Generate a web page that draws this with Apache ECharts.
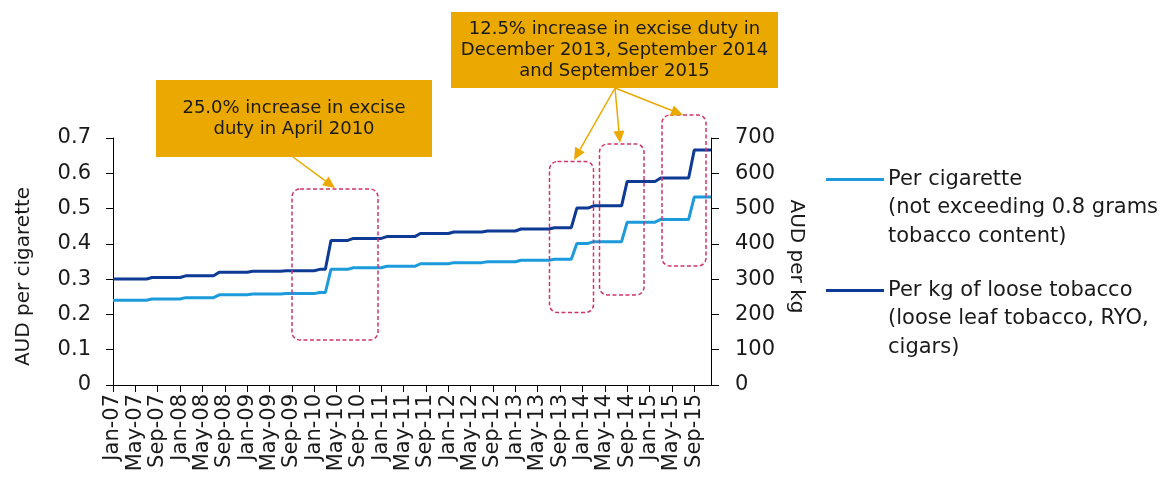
<!DOCTYPE html>
<html>
<head>
<meta charset="utf-8">
<script src="https://cdn.jsdelivr.net/npm/echarts@6/dist/echarts.min.js"></script>
<style>
html,body{margin:0;padding:0;background:#fff;}
#chart{width:1167px;height:477px;}
</style>
</head>
<body>
<div id="chart"></div>
<script>
// ---- Data ----
const monthNames = ['Jan','Feb','Mar','Apr','May','Jun','Jul','Aug','Sep','Oct','Nov','Dec'];
const years = ['07','08','09','10','11','12','13','14','15'];
const months = [];
years.forEach(y => monthNames.forEach(m => months.push(m + '-' + y)));

// AUD per cigarette (monthly, Jan-07 .. Dec-15)
const perCigarette = [
  0.2404,0.2404,0.2404,0.2404,0.2404,0.2404,0.2404,0.2436,0.2436,0.2436,0.2436,0.2436, // 2007
  0.2436,0.2475,0.2475,0.2475,0.2475,0.2475,0.2475,0.2556,0.2556,0.2556,0.2556,0.2556, // 2008
  0.2556,0.2578,0.2578,0.2578,0.2578,0.2578,0.2578,0.2590,0.2590,0.2590,0.2590,0.2590, // 2009
  0.2590,0.2622,0.2622,0.3278,0.3278,0.3278,0.3278,0.3323,0.3323,0.3323,0.3323,0.3323, // 2010
  0.3323,0.3364,0.3364,0.3364,0.3364,0.3364,0.3364,0.3436,0.3436,0.3436,0.3436,0.3436, // 2011
  0.3436,0.3468,0.3468,0.3468,0.3468,0.3468,0.3468,0.3492,0.3492,0.3492,0.3492,0.3492, // 2012
  0.3492,0.3536,0.3536,0.3536,0.3536,0.3536,0.3536,0.3566,0.3566,0.3566,0.3566,0.4012, // 2013
  0.4012,0.4012,0.4062,0.4062,0.4062,0.4062,0.4062,0.4062,0.4615,0.4615,0.4615,0.4615, // 2014
  0.4615,0.4615,0.4692,0.4692,0.4692,0.4692,0.4692,0.4692,0.5325,0.5325,0.5325,0.5325  // 2015
];

// AUD per kg of loose tobacco (monthly, Jan-07 .. Dec-15)
const perKg = [
  300.5,300.5,300.5,300.5,300.5,300.5,300.5,304.5,304.5,304.5,304.5,304.5, // 2007
  304.5,309.4,309.4,309.4,309.4,309.4,309.4,319.5,319.5,319.5,319.5,319.5, // 2008
  319.5,322.3,322.3,322.3,322.3,322.3,322.3,323.8,323.8,323.8,323.8,323.8, // 2009
  323.8,327.8,327.8,409.7,409.7,409.7,409.7,415.4,415.4,415.4,415.4,415.4, // 2010
  415.4,420.5,420.5,420.5,420.5,420.5,420.5,429.5,429.5,429.5,429.5,429.5, // 2011
  429.5,433.5,433.5,433.5,433.5,433.5,433.5,436.5,436.5,436.5,436.5,436.5, // 2012
  436.5,442.0,442.0,442.0,442.0,442.0,442.0,445.8,445.8,445.8,445.8,501.5, // 2013
  501.5,501.5,507.8,507.8,507.8,507.8,507.8,507.8,576.9,576.9,576.9,576.9, // 2014
  576.9,576.9,586.5,586.5,586.5,586.5,586.5,586.5,665.7,665.7,665.7,665.7  // 2015
];

const seriesNames = ['Per cigarette\n(not exceeding 0.8 grams\ntobacco content)',
                     'Per kg of loose tobacco\n(loose leaf tobacco, RYO,\ncigars)'];
const leftAxisName = 'AUD per cigarette';
const rightAxisName = 'AUD per kg';
const note1 = '25.0% increase in excise\nduty in April 2010';
const note2 = '12.5% increase in excise duty in\nDecember 2013, September 2014\nand September 2015';

// ---- Styling ----
const FONT = 'DejaVu Sans';
const TXT = '#1a1a1a';
const LIGHT = '#1b9bdb';
const DARK = '#0c3a94';
const ORANGE = '#eba900';
const PINK = '#d0336a';

function arrow(x1, y1, x2, y2) {
  const a = Math.atan2(y2 - y1, x2 - x1);
  const L = 12, W = 5.5;
  const bx = x2 - L * Math.cos(a), by = y2 - L * Math.sin(a);
  const px = -Math.sin(a) * W, py = Math.cos(a) * W;
  return [
    {type: 'line', z: 20, shape: {x1: x1, y1: y1, x2: bx, y2: by}, style: {stroke: ORANGE, lineWidth: 1.5}},
    {type: 'polygon', z: 20, shape: {points: [[x2, y2], [bx + px, by + py], [bx - px, by - py]]}, style: {fill: ORANGE}}
  ];
}
function dashRect(x, y, w, h) {
  return {type: 'rect', z: 15, shape: {x: x, y: y, width: w, height: h, r: 8},
          style: {fill: null, stroke: PINK, lineWidth: 1.5, lineDash: [4, 2.5]}};
}
function noteBox(x, y, w, h, text) {
  return [
    {type: 'rect', z: 18, shape: {x: x, y: y, width: w, height: h}, style: {fill: ORANGE}},
    {type: 'text', z: 19, x: x + w / 2, y: y + h / 2,
     style: {text: text, font: '18px "' + FONT + '"', fill: TXT, align: 'center', verticalAlign: 'middle', lineHeight: 21}}
  ];
}
function legendItem(y, color, text) {
  return [
    {type: 'line', z: 10, shape: {x1: 826, y1: y, x2: 884, y2: y}, style: {stroke: color, lineWidth: 3}},
    {type: 'text', z: 10, x: 888, y: y - 14.25,
     style: {text: text, font: '21px "' + FONT + '"', fill: TXT, align: 'left', verticalAlign: 'top', lineHeight: 28.5}}
  ];
}

const graphics = [].concat(
  dashRect(292, 189, 86, 151),
  dashRect(549.5, 161.5, 44, 151),
  dashRect(599.5, 144, 44.5, 151),
  dashRect(662, 115, 44, 151),
  noteBox(156, 80, 276, 77, note1),
  noteBox(451, 12, 327, 76, note2),
  arrow(293, 157, 335, 188),
  arrow(615, 88, 574, 160),
  arrow(615, 88, 620, 143),
  arrow(615, 88, 683, 115),
  legendItem(179.5, LIGHT, seriesNames[0]),
  legendItem(290.5, DARK, seriesNames[1])
);

const chart = echarts.init(document.getElementById('chart'), null, {renderer: 'canvas'});
chart.setOption({
  animation: false,
  backgroundColor: '#fff',
  textStyle: {fontFamily: FONT, color: TXT},
  grid: {left: 113, right: 456, top: 138, bottom: 92, containLabel: false},
  xAxis: {
    type: 'category', data: months, boundaryGap: false,
    axisLine: {lineStyle: {color: '#000', width: 1}},
    axisTick: {interval: 3, length: 7, lineStyle: {color: '#000'}},
    axisLabel: {interval: 3, rotate: 90, margin: 9, fontSize: 21, color: TXT, fontFamily: FONT},
    splitLine: {show: false}
  },
  yAxis: [
    {
      type: 'value', min: 0, max: 0.7, interval: 0.1, position: 'left',
      name: leftAxisName, nameLocation: 'middle', nameGap: 79,
      nameTextStyle: {fontSize: 20, color: TXT, fontFamily: FONT, padding: [0, 30, 0, 0]},
      axisLine: {show: true, lineStyle: {color: '#000', width: 1}},
      axisTick: {show: true, length: 7, lineStyle: {color: '#000'}},
      axisLabel: {margin: 22, fontSize: 21, color: TXT, fontFamily: FONT,
                  formatter: v => (Math.round(v * 10) / 10).toString()},
      splitLine: {show: false}
    },
    {
      type: 'value', min: 0, max: 700, interval: 100, position: 'right',
      name: rightAxisName, nameLocation: 'middle', nameGap: 74, nameRotate: -90,
      nameTextStyle: {fontSize: 20, color: TXT, fontFamily: FONT, padding: [0, 10, 0, 0]},
      axisLine: {show: true, lineStyle: {color: '#000', width: 1}},
      axisTick: {show: true, length: 8, lineStyle: {color: '#000'}},
      axisLabel: {margin: 24, fontSize: 21, color: TXT, fontFamily: FONT},
      splitLine: {show: false}
    }
  ],
  series: [
    {name: seriesNames[0], type: 'line', yAxisIndex: 0, data: perCigarette,
     showSymbol: false, symbol: 'none', lineStyle: {color: LIGHT, width: 3}, itemStyle: {color: LIGHT}, z: 3},
    {name: seriesNames[1], type: 'line', yAxisIndex: 1, data: perKg,
     showSymbol: false, symbol: 'none', lineStyle: {color: DARK, width: 3}, itemStyle: {color: DARK}, z: 4}
  ],
  graphic: graphics
});
</script>
</body>
</html>
